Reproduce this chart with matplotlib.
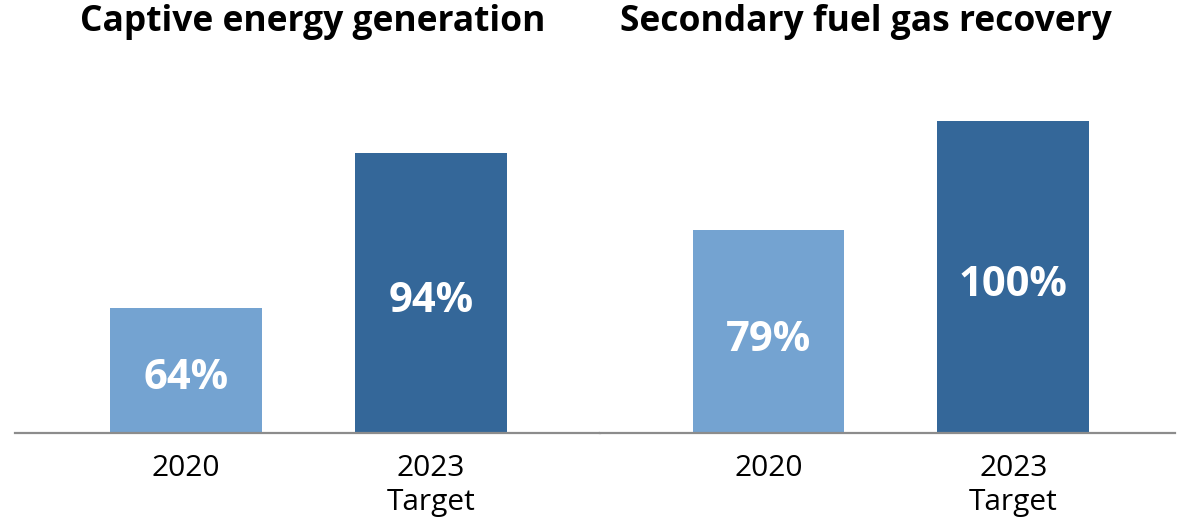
import matplotlib.pyplot as plt

plt.rcParams['font.family'] = ['Open Sans', 'DejaVu Sans']

# data
titles = ['Captive energy generation', 'Secondary fuel gas recovery']
categories = ['2020', '2023\nTarget']
captive = [64, 94]
fuel_gas = [79, 100]
panel_values = [captive, fuel_gas]

colors = ['#74a3d1', '#346799']

W, H = 1184, 524
fig = plt.figure(figsize=(W / 100, H / 100), dpi=100)

# axes placed in pixel terms (left, right), shared baseline and top
base_px, top_px = 433, 59
panels_px = [(15, 600), (600, 1175)]
xlims = [(-0.698, 1.69), (-0.688, 1.661)]
title_x = [313, 866]

for i, vals in enumerate(panel_values):
    l, r = panels_px[i]
    ax = fig.add_axes([l / W, (H - base_px) / H, (r - l) / W, (base_px - top_px) / H])
    x = range(len(vals))
    ax.bar(x, vals, width=0.62, color=colors, bottom=0)
    ax.set_ylim(40, 112)
    ax.set_xlim(*xlims[i])
    for xi, v in zip(x, vals):
        ax.text(xi, (40 + v) / 2 - 1.6, f'{v}%', ha='center', va='center',
                color='white', fontsize=30, fontweight='bold')
    ax.set_xticks(list(x))
    ax.set_xticklabels(categories, fontsize=21.5, linespacing=1.25)
    ax.tick_params(axis='x', length=0, pad=15)
    ax.set_yticks([])
    for s in ['top', 'left', 'right']:
        ax.spines[s].set_visible(False)
    ax.spines['bottom'].set_color('#8c8c8c')
    ax.spines['bottom'].set_linewidth(1.6)
    fig.text(title_x[i] / W, 1 - 4 / H, titles[i], ha='center', va='top',
             fontsize=25.5, fontweight='bold', color='black')

fig.savefig('out.png', dpi=100)
